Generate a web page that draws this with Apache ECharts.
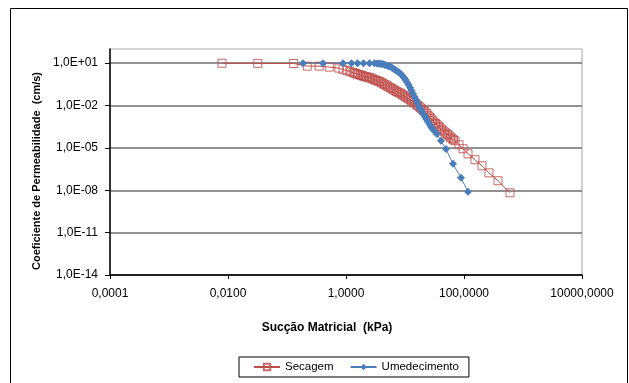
<!DOCTYPE html>
<html>
<head>
<meta charset="utf-8">
<script src="https://cdn.jsdelivr.net/npm/echarts@6/dist/echarts.min.js"></script>
<style>
  html, body { margin: 0; padding: 0; background: #fff; }
  #chart { width: 629px; height: 383px; }
</style>
</head>
<body>
<div id="chart"></div>
<script>
// Sucção matricial (kPa) e coeficiente de permeabilidade (cm/s) — trajetória de secagem
const secagemSuccao = [0.0079, 0.032, 0.13, 0.22, 0.35, 0.52, 0.76, 0.89, 1.04, 1.17, 1.31, 1.394, 1.48, 1.566,
  1.66, 1.761, 1.87, 1.980, 2.10, 2.226, 2.36, 2.502, 2.65, 2.813, 2.99, 3.162, 3.35, 3.554, 3.77, 3.997,
  4.24, 4.493, 4.76, 5.051, 5.36, 5.679, 6.03, 6.384, 6.77, 7.176, 7.60, 8.068, 8.55, 9.07, 9.62, 10.2,
  10.8, 11.5, 12.2, 12.9, 13.7, 14.5, 15.4, 16.3, 17.3, 18.3, 19.4, 20.6, 21.8, 23.1, 24.5, 26.0, 27.6,
  29.2, 31.0, 32.9, 34.8, 37.0, 39.2, 41.6, 44.1, 46.7, 49.5, 52.5, 55.7, 59.0, 62.7, 66.4, 70.4, 82.3,
  96.2, 117, 153, 202, 265, 377, 602];
const secagemK = [9.8, 9.6, 9.4, 6.1, 6.1, 5.2, 4.42, 3.46, 2.94, 2.49, 2.12, 1.95, 1.80, 1.66,
  1.53, 1.41, 1.30, 1.20, 1.10, 1.05, 1.02, 0.938, 0.863, 0.771, 0.676, 0.622, 0.574, 0.528, 0.488, 0.414,
  0.352, 0.313, 0.275, 0.234, 0.199, 0.177, 0.155, 0.132, 0.112, 0.100, 0.0877, 0.0783, 0.0687, 0.0583, 0.0495, 0.0421,
  0.0357, 0.0303, 0.0258, 0.0219, 0.0186, 0.0153, 0.0124, 0.0102, 0.00822, 0.00676, 0.00547, 0.00449, 0.00363, 0.00275, 0.00205, 0.00155, 0.00116,
  8.77e-4, 6.55e-4, 5.37e-4, 4.35e-4, 3.40e-4, 2.67e-4, 2.08e-4, 1.63e-4, 1.34e-4, 1.08e-4, 8.91e-5, 7.21e-5, 5.65e-5, 4.42e-5, 3.75e-5, 3.19e-5, 1.66e-5,
  8.7e-6, 3.8e-6, 1.45e-6, 5.4e-7, 1.7e-7, 4.7e-8, 6.6e-9];

// Trajetória de umedecimento
const umedecimentoSuccao = [0.187, 0.407, 0.889, 1.24, 1.57, 1.98, 2.50, 3.04, 3.35, 3.554, 3.77, 3.997,
  4.24, 4.493, 4.76, 5.051, 5.36, 5.679, 6.03, 6.384, 6.77, 7.176, 7.60, 8.068, 8.55, 9.07, 9.62, 10.2,
  10.8, 11.5, 12.2, 12.9, 13.7, 14.5, 15.4, 16.3, 17.3, 18.3, 19.4, 20.6, 21.8, 23.1, 24.5, 26.0, 27.6,
  29.2, 31.0, 34.8, 40.7, 49.5, 65.1, 88.9, 117];
const umedecimentoK = [10.0, 10.0, 10.0, 10.0, 10.0, 9.9, 9.8, 9.7, 9.5, 9.22, 9.0, 8.77,
  8.5, 7.83, 7.2, 6.65, 6.1, 5.47, 4.8, 4.07, 3.46, 2.94, 2.49, 2.05, 1.66, 1.26, 0.938, 0.655,
  0.449, 0.289, 0.183, 0.112, 0.0687, 0.0421, 0.0258, 0.0146, 0.00822, 0.00547, 0.00363, 0.00242, 0.00161, 0.00107, 7.1e-4, 4.72e-4, 3.13e-4,
  2.26e-4, 1.63e-4, 9.53e-5, 3.19e-5, 8.22e-6, 7.44e-7, 7.57e-8, 7.71e-9];

// Marcas dos eixos
const xTickValues = [0.0001, 0.01, 1, 100, 10000];
const xTickLabels = ['0,0001', '0,0100', '1,0000', '100,0000', '10000,0000'];
const yTickValues = [1e-14, 1e-11, 1e-8, 1e-5, 1e-2, 10];
const yTickLabels = ['1,0E-14', '1,0E-11', '1,0E-08', '1,0E-05', '1,0E-02', '1,0E+01'];

const seriesNames = ['Secagem', 'Umedecimento'];
const xTitle = 'Sucção Matricial  (kPa)';
const yTitle = 'Coeficiente de Permeabilidade  (cm/s)';

function pairs(xs, ys) { return xs.map((x, i) => [x, ys[i]]); }
function labelFor(values, labels) {
  return function (v) {
    const i = values.findIndex(t => Math.abs(Math.log10(t) - Math.log10(v)) < 1e-6);
    return i < 0 ? '' : labels[i];
  };
}

const FONT = "'Liberation Sans', Arial, sans-serif";
const RED = '#BE4B48';
const BLUE = '#4A7EBB';

const chart = echarts.init(document.getElementById('chart'), null, { renderer: 'canvas' });
chart.setOption({
  animation: false,
  textStyle: { fontFamily: FONT },
  grid: { left: 110, right: 47, top: 49, bottom: 108, show: true, borderColor: '#A6A6A6', borderWidth: 1 },
  xAxis: {
    type: 'log', logBase: 10, min: 1e-4, max: 1e4,
    axisLine: { lineStyle: { color: '#000', width: 1.5 } },
    axisTick: { show: true, customValues: xTickValues, length: 4, lineStyle: { color: '#000' } },
    axisLabel: { customValues: xTickValues, formatter: labelFor(xTickValues, xTickLabels),
      color: '#000', fontSize: 12, margin: 13, fontFamily: FONT },
    splitLine: { show: false },
    minorTick: { show: false }, minorSplitLine: { show: false }
  },
  yAxis: {
    type: 'log', logBase: 10, min: 1e-14, max: 1e2,
    axisLine: { show: true, lineStyle: { color: '#000', width: 1.5 } },
    axisTick: { show: true, customValues: yTickValues, length: 5, lineStyle: { color: '#000' } },
    axisLabel: { customValues: yTickValues, formatter: labelFor(yTickValues, yTickLabels),
      color: '#000', fontSize: 12, margin: 12, fontFamily: FONT },
    splitLine: { show: true, lineStyle: { color: '#6E6E6E', width: 1.5 } },
    minorTick: { show: false }, minorSplitLine: { show: false }
  },
  legend: {
    left: 239, top: 357,
    data: seriesNames,
    itemWidth: 26, itemHeight: 8, itemGap: 16,
    padding: [4, 10, 4, 14],
    borderColor: '#000', borderWidth: 1, backgroundColor: '#fff',
    textStyle: { fontSize: 11.5, color: '#000', fontFamily: FONT }
  },
  series: [
    {
      name: seriesNames[0], type: 'line',
      data: pairs(secagemSuccao, secagemK),
      symbol: 'rect', symbolSize: 8, showAllSymbol: true,
      lineStyle: { color: RED, width: 1 },
      itemStyle: { color: 'rgba(255,255,255,0)', borderColor: 'rgba(192,80,77,0.85)', borderWidth: 1 },
      emphasis: { disabled: true }
    },
    {
      name: seriesNames[1], type: 'line',
      data: pairs(umedecimentoSuccao, umedecimentoK),
      symbol: 'diamond', symbolSize: 8, showAllSymbol: true,
      lineStyle: { color: BLUE, width: 1 },
      itemStyle: { color: BLUE },
      emphasis: { disabled: true }
    }
  ],
  graphic: [
    { type: 'rect', silent: true, shape: { x: 10.5, y: 8.5, width: 617, height: 390 },
      style: { fill: 'none', stroke: '#000', lineWidth: 1 } },
    { type: 'text', silent: true, x: 327, y: 328,
      style: { text: xTitle, font: 'bold 12px ' + FONT, fill: '#000', align: 'center', verticalAlign: 'middle' } },
    { type: 'text', silent: true, x: 37, y: 171, rotation: Math.PI / 2,
      style: { text: yTitle, font: 'bold 11px ' + FONT, fill: '#000', align: 'center', verticalAlign: 'middle' } }
  ]
});
</script>
</body>
</html>
